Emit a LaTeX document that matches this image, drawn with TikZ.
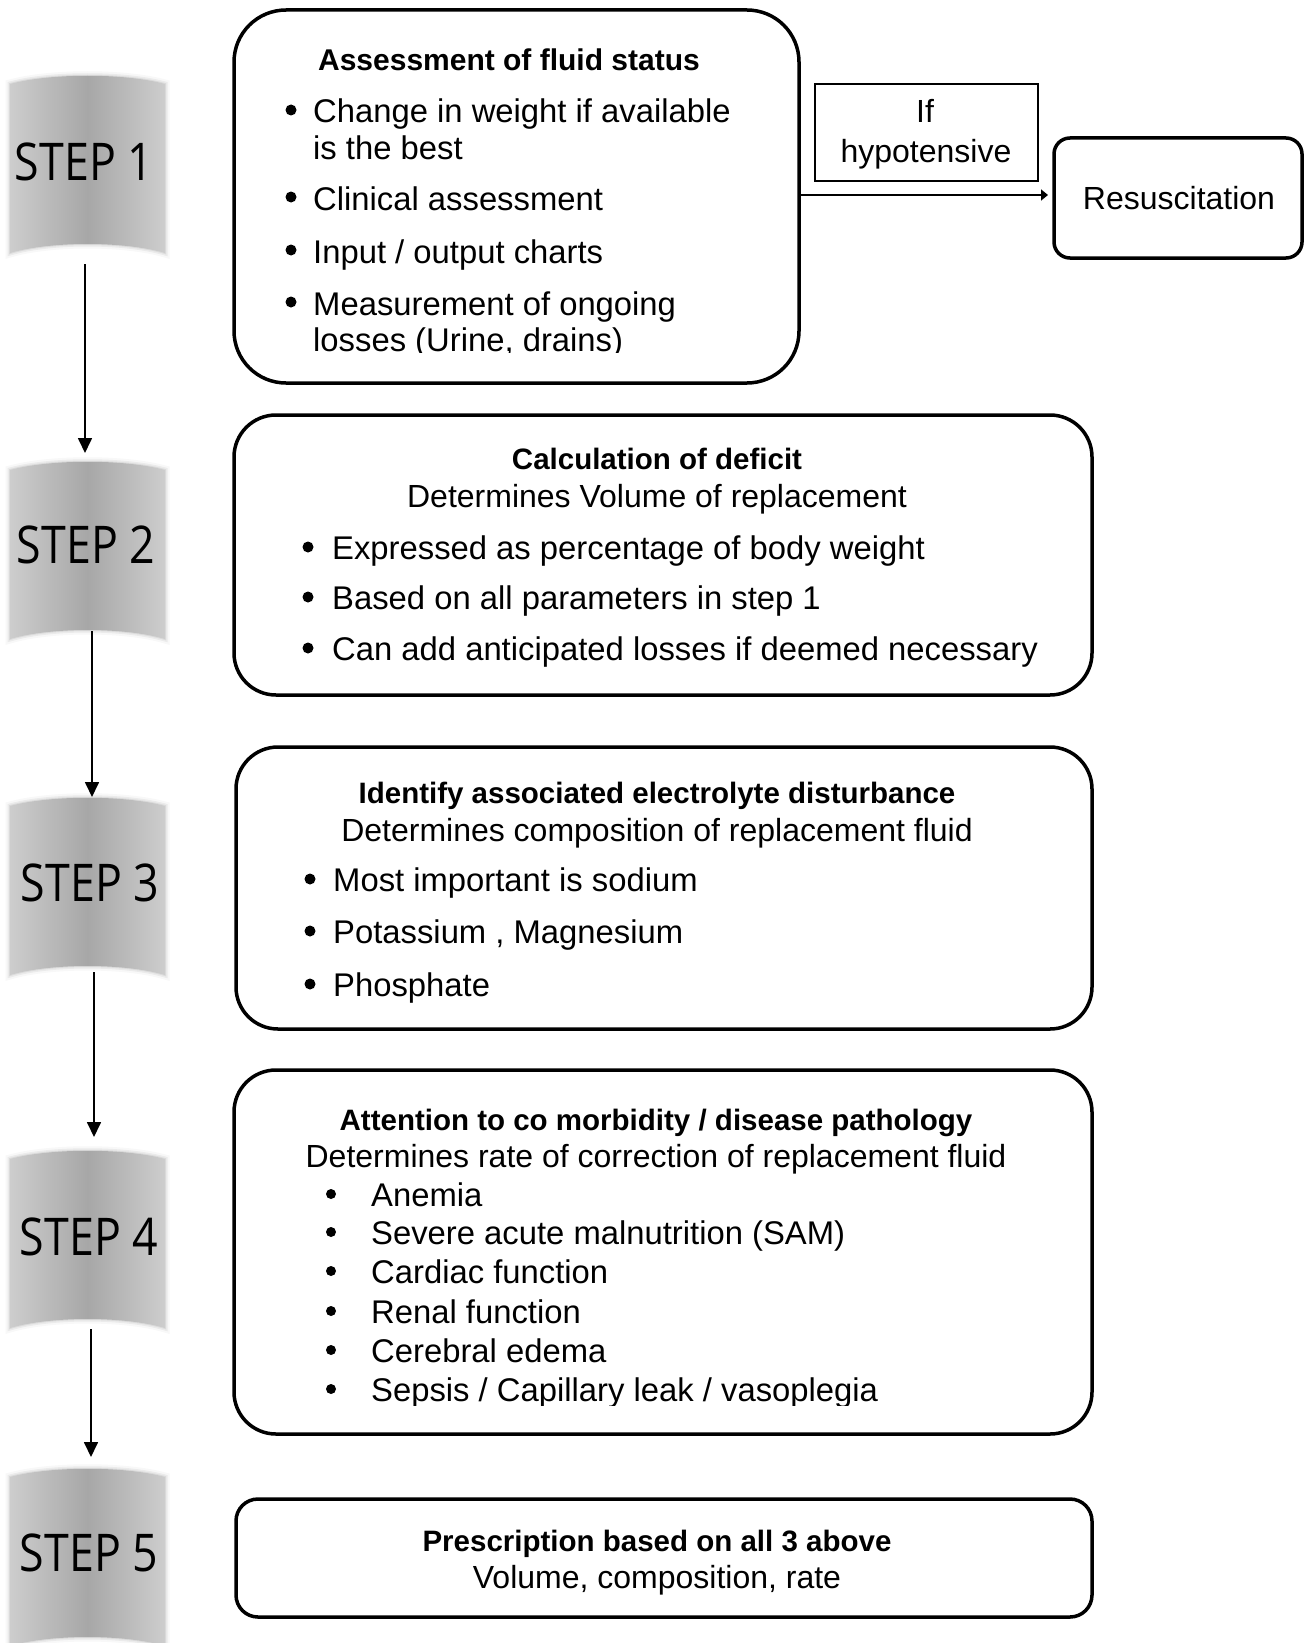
\documentclass[tikz,border=0pt]{standalone}
\usepackage{fontspec}
\setmainfont{Liberation Sans}
\newfontfamily\stepfont{Open Sans}
\usetikzlibrary{arrows.meta,calc}
\definecolor{stepLight}{gray}{0.77}
\definecolor{stepDark}{gray}{0.655}
\newcommand{\bandpath}[1]{(10,#1+9) .. controls (50,#1-2) and (125,#1-2) .. (165,#1+9) -- (165,#1+178) .. controls (125,#1+166) and (50,#1+166) .. (10,#1+178) -- cycle}
\newcommand{\stepband}[1]{%
  \draw[stepLight,line width=9pt,opacity=0.12] \bandpath{#1};
  \draw[stepLight,line width=5pt,opacity=0.25] \bandpath{#1};
  \draw[stepLight,line width=2pt,opacity=0.4] \bandpath{#1};
  \shade[left color=stepLight!85!white,right color=stepLight!85!white,middle color=stepDark] \bandpath{#1};
}
\tikzset{
  txt/.style={inner sep=0pt, anchor=base west, font=\fontsize{32.8}{38}\selectfont},
  ttl/.style={inner sep=0pt, anchor=base, font=\bfseries\fontsize{29.5}{34}\selectfont},
  sub/.style={inner sep=0pt, anchor=base, font=\fontsize{32}{38}\selectfont},
  box/.style={draw, line width=3.5pt, rounded corners=42pt, inner sep=0pt},
  steplabel/.style={font=\stepfont\fontsize{52}{60}\selectfont, inner sep=0pt},
  flow/.style={-{Triangle[length=15pt,width=14pt]}, line width=1.7pt},
  dot/.style={fill=black},
}
\begin{document}
\begin{tikzpicture}[x=1pt,y=-1pt]
\useasboundingbox (0,0) rectangle (1305,1643);

% step bands
\stepband{75}
\stepband{461}
\stepband{797}
\stepband{1150}
\stepband{1468}

\node[steplabel] (s1) at (84,162) {\scalebox{0.86}[1]{STEP 1}};
\node[steplabel] (s2) at (86,545) {\scalebox{0.86}[1]{STEP 2}};
\node[steplabel] (s3) at (90,883) {\scalebox{0.86}[1]{STEP 3}};
\node[steplabel] (s4) at (89,1237) {\scalebox{0.86}[1]{STEP 4}};
\node[steplabel] (s5) at (89,1553) {\scalebox{0.86}[1]{STEP 5}};

\coordinate (a1s) at (85,264);  \coordinate (a1e) at (85,453);
\coordinate (a2s) at (92,631);  \coordinate (a2e) at (92,797);
\coordinate (a3s) at (94,972);  \coordinate (a3e) at (94,1137);
\coordinate (a4s) at (91,1329); \coordinate (a4e) at (91,1457);
\draw[flow] (a1s) -- (a1e);
\draw[flow] (a2s) -- (a2e);
\draw[flow] (a3s) -- (a3e);
\draw[flow] (a4s) -- (a4e);

% boxes
\node[box, rounded corners=52pt, minimum width=565pt, minimum height=373pt] (b1) at (516.5,196.5) {};
\node[box, minimum width=858pt, minimum height=280pt] (b2) at (663,555) {};
\node[box, minimum width=856pt, minimum height=282pt] (b3) at (664,888) {};
\node[box, minimum width=858pt, minimum height=364pt] (b4) at (663,1252) {};
\node[box, rounded corners=22pt, minimum width=856pt, minimum height=118pt] (b5) at (664,1558) {};
\node[draw, line width=1.5pt, inner sep=0pt, minimum width=223pt, minimum height=97pt] (hyp) at (926.5,132.5) {};
\node[box, rounded corners=16pt, minimum width=248pt, minimum height=120pt] (res) at (1178,198) {};

% box 1 text
\node[ttl, font=\bfseries\fontsize{30}{34}\selectfont] (t1) at (509,71) {Assessment of fluid status};
\fill[dot] (291,110) circle (5.5);
\fill[dot] (291,197) circle (5.5);
\fill[dot] (291,250) circle (5.5);
\fill[dot] (291,302) circle (5.5);
\node[txt] (t1a) at (313,123) {Change in weight if available};
\node[txt] (t1b) at (313,160) {is the best};
\node[txt] (t1c) at (313,210) {Clinical assessment};
\node[txt] (t1d) at (313,263) {Input / output charts};
\node[txt] (t1e) at (313,315) {Measurement of ongoing};
\begin{scope}
\clip (250,300) rectangle (790,352.5);
\node[txt] (t1f) at (313,351) {losses (Urine, drains)};
\end{scope}

% if hypotensive / resuscitation
\node[sub] (h1) at (925,123) {If};
\node[sub] (h2) at (926,162) {hypotensive};
\node[sub] (r1) at (1179,209) {Resuscitation};
\coordinate (rtip) at (1048,195);
\draw[line width=1.5pt, -{Triangle[length=7pt,width=11pt]}] (b1.east |- rtip) -- (rtip);

% box 2
\node[ttl] (t2) at (657,469) {Calculation of deficit};
\node[sub] (u2) at (657,507) {Determines Volume of replacement};
\fill[dot] (308,547) circle (5.5);
\fill[dot] (308,597) circle (5.5);
\fill[dot] (308,648) circle (5.5);
\node[txt] (t2a) at (332,559) {Expressed as percentage of body weight};
\node[txt] (t2b) at (332,609) {Based on all parameters in step 1};
\node[txt] (t2c) at (332,660) {Can add anticipated losses if deemed necessary};

% box 3
\node[ttl] (t3) at (657,803) {Identify associated electrolyte disturbance};
\node[sub] (u3) at (657,841) {Determines composition of replacement fluid};
\fill[dot] (310,879) circle (5.5);
\fill[dot] (310,931) circle (5.5);
\fill[dot] (310,984) circle (5.5);
\node[txt] (t3a) at (333,891) {Most important is sodium};
\node[txt] (t3b) at (333,943) {Potassium , Magnesium};
\node[txt] (t3c) at (333,996) {Phosphate};

% box 4
\node[ttl] (t4) at (656,1130) {Attention to co morbidity / disease pathology};
\node[sub] (u4) at (656,1167) {Determines rate of correction of replacement fluid};
\fill[dot] (331,1194) circle (5);
\fill[dot] (331,1232) circle (5);
\fill[dot] (331,1271) circle (5);
\fill[dot] (331,1311) circle (5);
\fill[dot] (331,1350) circle (5);
\fill[dot] (331,1389) circle (5);
\node[txt] (t4a) at (371,1206) {Anemia};
\node[txt] (t4b) at (371,1244) {Severe acute malnutrition (SAM)};
\node[txt] (t4c) at (371,1283) {Cardiac function};
\node[txt] (t4d) at (371,1323) {Renal function};
\node[txt] (t4e) at (371,1362) {Cerebral edema};
\begin{scope}
\clip (300,1360) rectangle (1080,1405);
\node[txt] (t4f) at (371,1401) {Sepsis / Capillary leak / vasoplegia};
\end{scope}

% box 5
\node[ttl] (t5) at (657,1551) {Prescription based on all 3 above};
\node[sub] (u5) at (657,1588) {Volume, composition, rate};
\end{tikzpicture}
\end{document}
